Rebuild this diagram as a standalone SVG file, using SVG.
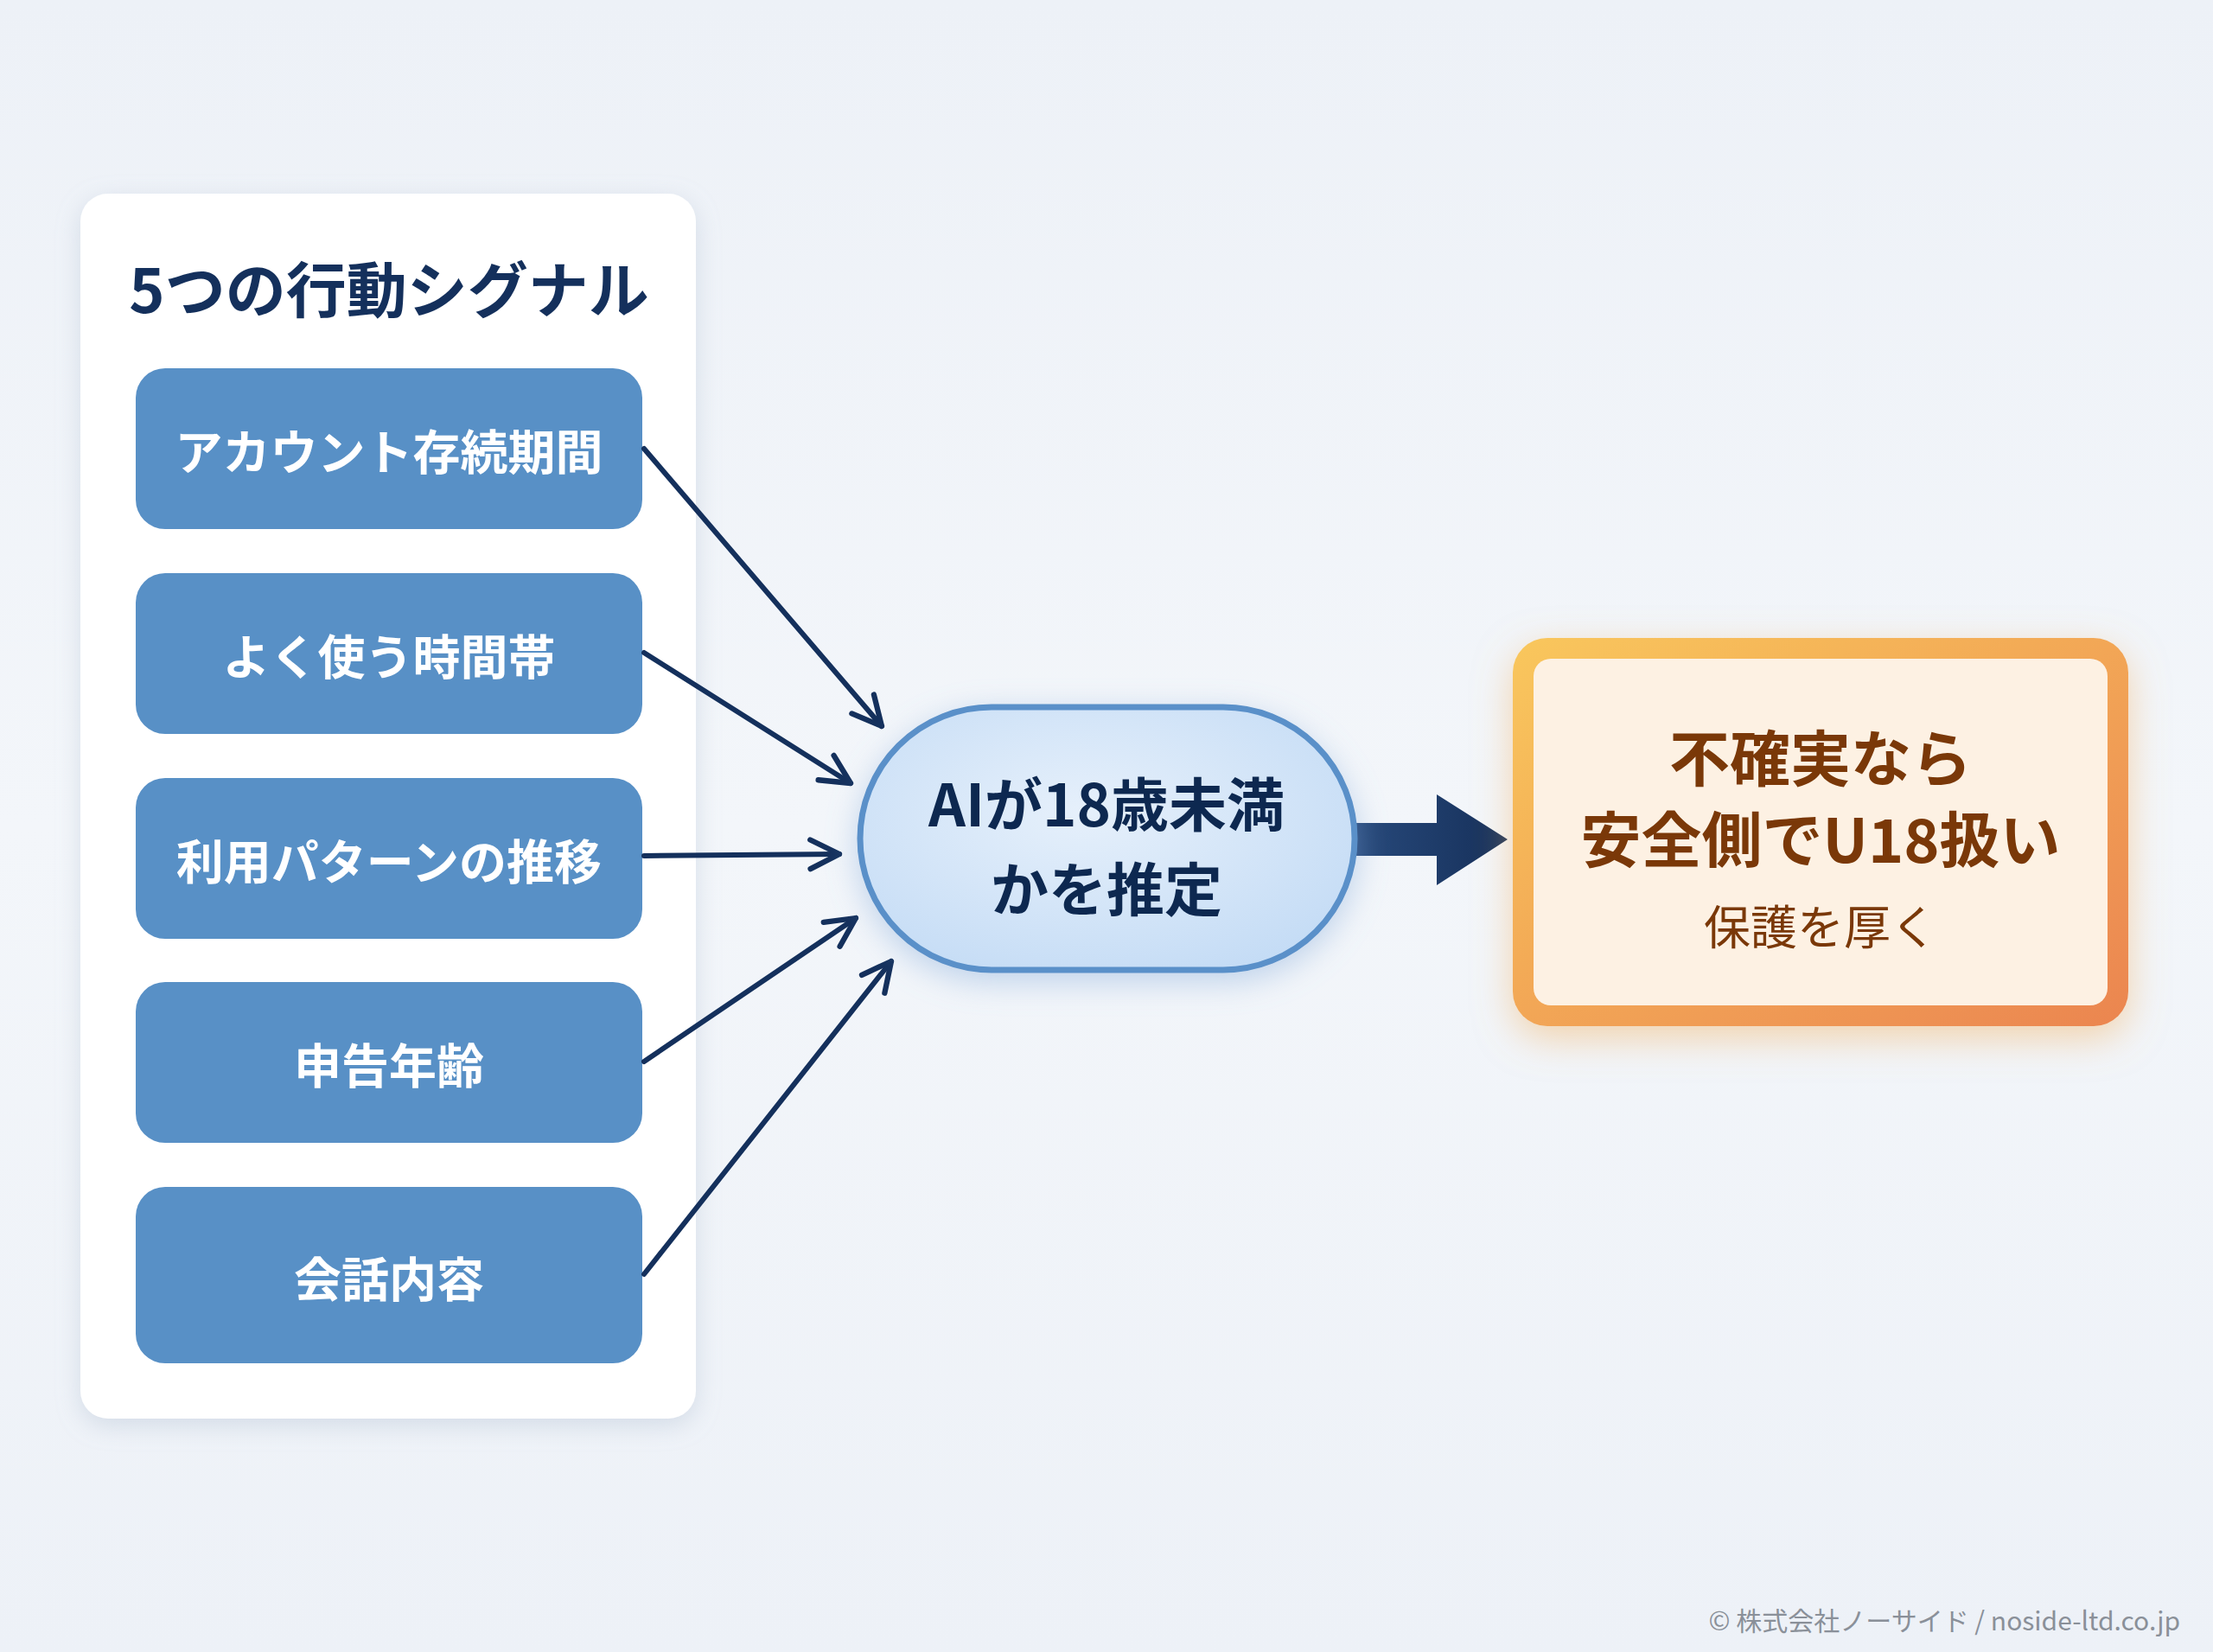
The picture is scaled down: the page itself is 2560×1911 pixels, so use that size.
<svg xmlns="http://www.w3.org/2000/svg" width="2560" height="1911" viewBox="0 0 2560 1911">
<defs>
<style>
.jp{font-family:"Noto Sans CJK JP","Noto Sans",sans-serif;}
.sig{font-size:55px;font-weight:700;fill:#ffffff;text-anchor:middle;dominant-baseline:central;}
.sigbox{fill:#5890c6;}
.conn{stroke:#14305c;stroke-width:6;fill:none;stroke-linecap:round;}
.ai{font-size:67px;font-weight:700;fill:#0d2850;text-anchor:middle;dominant-baseline:central;}
.res{font-size:70px;font-weight:700;fill:#7a3808;text-anchor:middle;dominant-baseline:central;}
.sub{font-size:54px;font-weight:400;fill:#7a3808;text-anchor:middle;dominant-baseline:central;}
</style>
<linearGradient id="bg" x1="0" y1="0" x2="0" y2="1">
<stop offset="0" stop-color="#edf1f7"/>
<stop offset="0.5" stop-color="#f3f6fa"/>
<stop offset="1" stop-color="#edf1f7"/>
</linearGradient>
<radialGradient id="pillfill" cx="0.45" cy="0.4" r="0.7">
<stop offset="0" stop-color="#e6f0fb"/>
<stop offset="1" stop-color="#c3dbf5"/>
</radialGradient>
<linearGradient id="orb" x1="0" y1="0" x2="1" y2="1">
<stop offset="0" stop-color="#f9c75c"/>
<stop offset="1" stop-color="#eb8550"/>
</linearGradient>
<linearGradient id="arw" x1="0" y1="0" x2="1" y2="0">
<stop offset="0" stop-color="#284a7c"/>
<stop offset="1" stop-color="#16305a"/>
</linearGradient>
<filter id="sh" x="-20%" y="-20%" width="140%" height="140%">
<feDropShadow dx="0" dy="8" stdDeviation="14" flood-color="#9fb0c8" flood-opacity="0.35"/>
</filter>
<filter id="glowb" x="-30%" y="-30%" width="160%" height="160%">
<feDropShadow dx="0" dy="10" stdDeviation="18" flood-color="#7ea6d8" flood-opacity="0.45"/>
</filter>
<filter id="glowo" x="-30%" y="-30%" width="160%" height="160%">
<feDropShadow dx="0" dy="14" stdDeviation="22" flood-color="#f3b060" flood-opacity="0.5"/>
</filter>
<marker id="open" viewBox="0 0 20 20" refX="18" refY="10" markerWidth="7" markerHeight="7" markerUnits="strokeWidth" orient="auto">
<path d="M2,2 L18,10 L2,18" fill="none" stroke="#14305c" stroke-width="3" stroke-linecap="round" stroke-linejoin="round"/>
</marker>
</defs>

<rect x="0" y="0" width="2560" height="1911" fill="url(#bg)"/>

<g id="panel">
<rect x="93" y="224" width="712" height="1417" rx="32" fill="#ffffff" filter="url(#sh)"/>
<text class="jp" x="450" y="331" font-size="70" font-weight="700" fill="#14305c" text-anchor="middle" dominant-baseline="central">5つの行動シグナル</text>
</g>

<g id="sig1"><rect class="sigbox" x="157" y="426" width="586" height="186" rx="34"/><text class="jp sig" x="450" y="519">アカウント存続期間</text></g>
<g id="sig2"><rect class="sigbox" x="157" y="663" width="586" height="186" rx="34"/><text class="jp sig" x="450" y="756">よく使う時間帯</text></g>
<g id="sig3"><rect class="sigbox" x="157" y="900" width="586" height="186" rx="34"/><text class="jp sig" x="450" y="993">利用パターンの推移</text></g>
<g id="sig4"><rect class="sigbox" x="157" y="1136" width="586" height="186" rx="34"/><text class="jp sig" x="450" y="1229">申告年齢</text></g>
<g id="sig5"><rect class="sigbox" x="157" y="1373" width="586" height="204" rx="34"/><text class="jp sig" x="450" y="1476">会話内容</text></g>

<g id="connectors">
<line class="conn" x1="745" y1="519" x2="1020" y2="840" marker-end="url(#open)"/>
<line class="conn" x1="745" y1="755" x2="984" y2="906" marker-end="url(#open)"/>
<line class="conn" x1="745" y1="990" x2="971" y2="988" marker-end="url(#open)"/>
<line class="conn" x1="745" y1="1228" x2="990" y2="1062" marker-end="url(#open)"/>
<line class="conn" x1="745" y1="1474" x2="1031" y2="1112" marker-end="url(#open)"/>
<polygon points="1560,952 1662,952 1662,919 1744,971 1662,1024 1662,990 1560,990" fill="url(#arw)"/>
</g>

<g id="ai">
<rect x="995" y="818" width="572" height="304" rx="152" fill="url(#pillfill)" stroke="#5a90c9" stroke-width="7" filter="url(#glowb)"/>
<text class="jp ai" x="1280" y="926">AIが18歳未満</text>
<text class="jp ai" x="1280" y="1024">かを推定</text>
</g>

<g id="result">
<rect x="1750" y="738" width="712" height="449" rx="40" fill="url(#orb)" filter="url(#glowo)"/>
<rect x="1774" y="762" width="664" height="401" rx="20" fill="#fdf1e3"/>
<text class="jp res" x="2106" y="873">不確実なら</text>
<text class="jp res" x="2106" y="967">安全側でU18扱い</text>
<text class="jp sub" x="2106" y="1069">保護を厚く</text>
</g>

<text class="jp" x="2522" y="1873" font-size="30" fill="#8a9099" text-anchor="end" dominant-baseline="central">© 株式会社ノーサイド / noside-ltd.co.jp</text>
</svg>
